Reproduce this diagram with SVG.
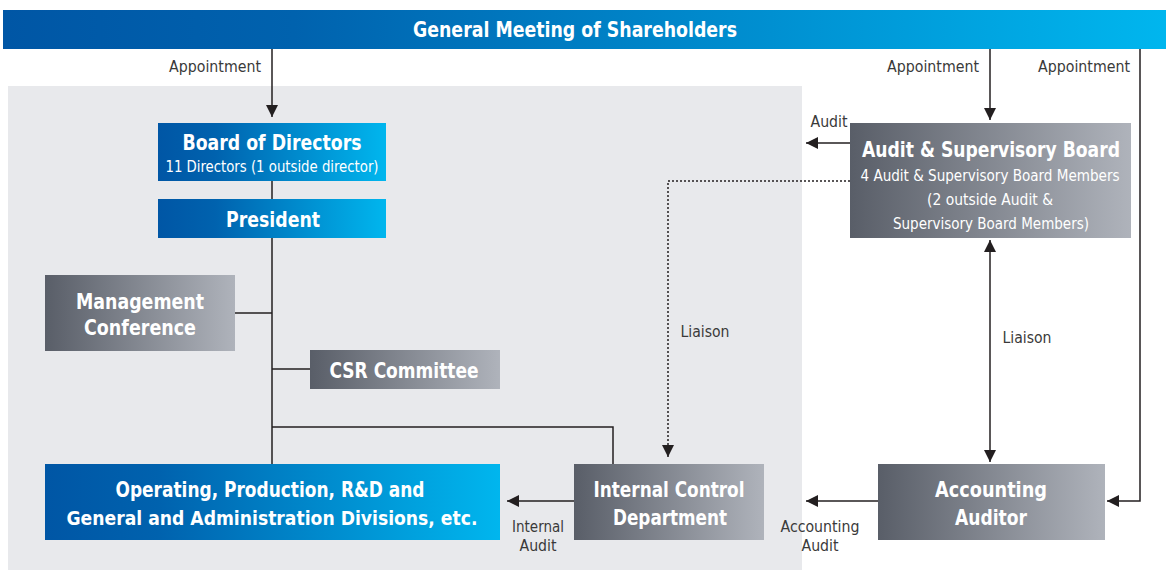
<svg xmlns="http://www.w3.org/2000/svg" width="1166" height="570" viewBox="0 0 1166 570">
<defs>
<linearGradient id="gBlue" x1="0" y1="0" x2="1" y2="0">
<stop offset="0" stop-color="#0056a5"/>
<stop offset="0.25" stop-color="#0062ae"/>
<stop offset="1" stop-color="#00b6ee"/>
</linearGradient>
<linearGradient id="gGray" x1="0" y1="0" x2="1" y2="0">
<stop offset="0" stop-color="#595e68"/>
<stop offset="1" stop-color="#afb3bb"/>
</linearGradient>
<marker id="ah" viewBox="0 0 12 12" refX="12" refY="6" markerWidth="12" markerHeight="12" markerUnits="userSpaceOnUse" orient="auto-start-reverse">
<path d="M0,0 L12,6 L0,12 Z" fill="#231f20"/>
</marker>
</defs>
<style>
.t{font-family:"Liberation Sans Narrow","DejaVu Sans Condensed","Liberation Sans",sans-serif;font-stretch:condensed;fill:#fff;text-anchor:middle}
.b{font-weight:bold;font-size:22px}
.s{font-size:16px}
.l{font-family:"Liberation Sans Narrow","DejaVu Sans Condensed","Liberation Sans",sans-serif;font-stretch:condensed;font-size:15px;fill:#3a3a3a;text-anchor:middle}
.c{fill:none;stroke:#231f20;stroke-width:1.5}
</style>
<rect x="0" y="0" width="1166" height="570" fill="#ffffff"/>
<rect x="8" y="86" width="794" height="484" fill="#e8e9ec"/>

<g id="gms">
<rect x="3" y="10" width="1163" height="39" fill="url(#gBlue)"/>
<text class="t b" x="575" y="37" textLength="324" lengthAdjust="spacingAndGlyphs">General Meeting of Shareholders</text>
</g>

<g id="connectors">
<line class="c" x1="272" y1="49" x2="272" y2="117" marker-end="url(#ah)"/>
<line class="c" x1="272" y1="181" x2="272" y2="199"/>
<line class="c" x1="272" y1="238" x2="272" y2="464"/>
<line class="c" x1="235" y1="313" x2="272" y2="313"/>
<line class="c" x1="272" y1="369" x2="310" y2="369"/>
<polyline class="c" points="272,427 613,427 613,464"/>
<line class="c" x1="574" y1="501" x2="507" y2="501" marker-end="url(#ah)"/>
<line class="c" x1="878" y1="501" x2="806" y2="501" marker-end="url(#ah)"/>
<line class="c" x1="850" y1="143" x2="806" y2="143" marker-end="url(#ah)"/>
<polyline class="c" points="850,181 668,181 668,457" stroke-dasharray="2,2" stroke-width="1.2" marker-end="url(#ah)"/>
<line class="c" x1="990" y1="49" x2="990" y2="120" marker-end="url(#ah)"/>
<polyline class="c" points="1140,49 1140,501 1107,501" stroke="#555" marker-end="url(#ah)"/>
<line class="c" x1="990" y1="240" x2="990" y2="462" marker-start="url(#ah)" marker-end="url(#ah)"/>
<text class="l" x="215" y="72" textLength="92" lengthAdjust="spacingAndGlyphs">Appointment</text>
<text class="l" x="933" y="72" textLength="92" lengthAdjust="spacingAndGlyphs">Appointment</text>
<text class="l" x="1084" y="72" textLength="92" lengthAdjust="spacingAndGlyphs">Appointment</text>
<text class="l" x="829" y="127" textLength="37" lengthAdjust="spacingAndGlyphs">Audit</text>
<text class="l" x="705" y="337" textLength="49" lengthAdjust="spacingAndGlyphs">Liaison</text>
<text class="l" x="1027" y="343" textLength="49" lengthAdjust="spacingAndGlyphs">Liaison</text>
<text class="l" x="538" y="532" textLength="52" lengthAdjust="spacingAndGlyphs">Internal</text>
<text class="l" x="538" y="551" textLength="37" lengthAdjust="spacingAndGlyphs">Audit</text>
<text class="l" x="820" y="532" textLength="79" lengthAdjust="spacingAndGlyphs">Accounting</text>
<text class="l" x="820" y="551" textLength="37" lengthAdjust="spacingAndGlyphs">Audit</text>
</g>

<g id="bod">
<rect x="158" y="123" width="228" height="58" fill="url(#gBlue)"/>
<text class="t b" x="272" y="150" textLength="179" lengthAdjust="spacingAndGlyphs">Board of Directors</text>
<text class="t s" x="272" y="172" textLength="213" lengthAdjust="spacingAndGlyphs">11 Directors (1 outside director)</text>
</g>
<g id="president">
<rect x="158" y="199" width="228" height="39" fill="url(#gBlue)"/>
<text class="t b" x="273" y="227" textLength="94" lengthAdjust="spacingAndGlyphs">President</text>
</g>
<g id="mgmt">
<rect x="45" y="275" width="190" height="76" fill="url(#gGray)"/>
<text class="t b" x="140" y="309" textLength="128" lengthAdjust="spacingAndGlyphs">Management</text>
<text class="t b" x="140" y="335" textLength="112" lengthAdjust="spacingAndGlyphs">Conference</text>
</g>
<g id="csr">
<rect x="310" y="350" width="190" height="39" fill="url(#gGray)"/>
<text class="t b" x="404" y="378" textLength="149" lengthAdjust="spacingAndGlyphs">CSR Committee</text>
</g>
<g id="ops">
<rect x="45" y="464" width="455" height="76" fill="url(#gBlue)"/>
<text class="t b" x="270" y="497" textLength="309" lengthAdjust="spacingAndGlyphs">Operating, Production, R&amp;D and</text>
<text class="t b" x="272" y="525" style="font-size:20px" textLength="411" lengthAdjust="spacingAndGlyphs">General and Administration Divisions, etc.</text>
</g>
<g id="icd">
<rect x="574" y="464" width="190" height="76" fill="url(#gGray)"/>
<text class="t b" x="669" y="497" textLength="151" lengthAdjust="spacingAndGlyphs">Internal Control</text>
<text class="t b" x="670" y="525" textLength="114" lengthAdjust="spacingAndGlyphs">Department</text>
</g>
<g id="asb">
<rect x="850" y="123" width="281" height="115" fill="url(#gGray)"/>
<text class="t b" x="991" y="157" textLength="258" lengthAdjust="spacingAndGlyphs">Audit &amp; Supervisory Board</text>
<text class="t s" x="990" y="181" textLength="259" lengthAdjust="spacingAndGlyphs">4 Audit &amp; Supervisory Board Members</text>
<text class="t s" x="990" y="205" textLength="126" lengthAdjust="spacingAndGlyphs">(2 outside Audit &amp;</text>
<text class="t s" x="991" y="229" textLength="196" lengthAdjust="spacingAndGlyphs">Supervisory Board Members)</text>
</g>
<g id="aa">
<rect x="878" y="464" width="227" height="76" fill="url(#gGray)"/>
<text class="t b" x="991" y="497" textLength="112" lengthAdjust="spacingAndGlyphs">Accounting</text>
<text class="t b" x="991" y="525" textLength="72" lengthAdjust="spacingAndGlyphs">Auditor</text>
</g>
</svg>
